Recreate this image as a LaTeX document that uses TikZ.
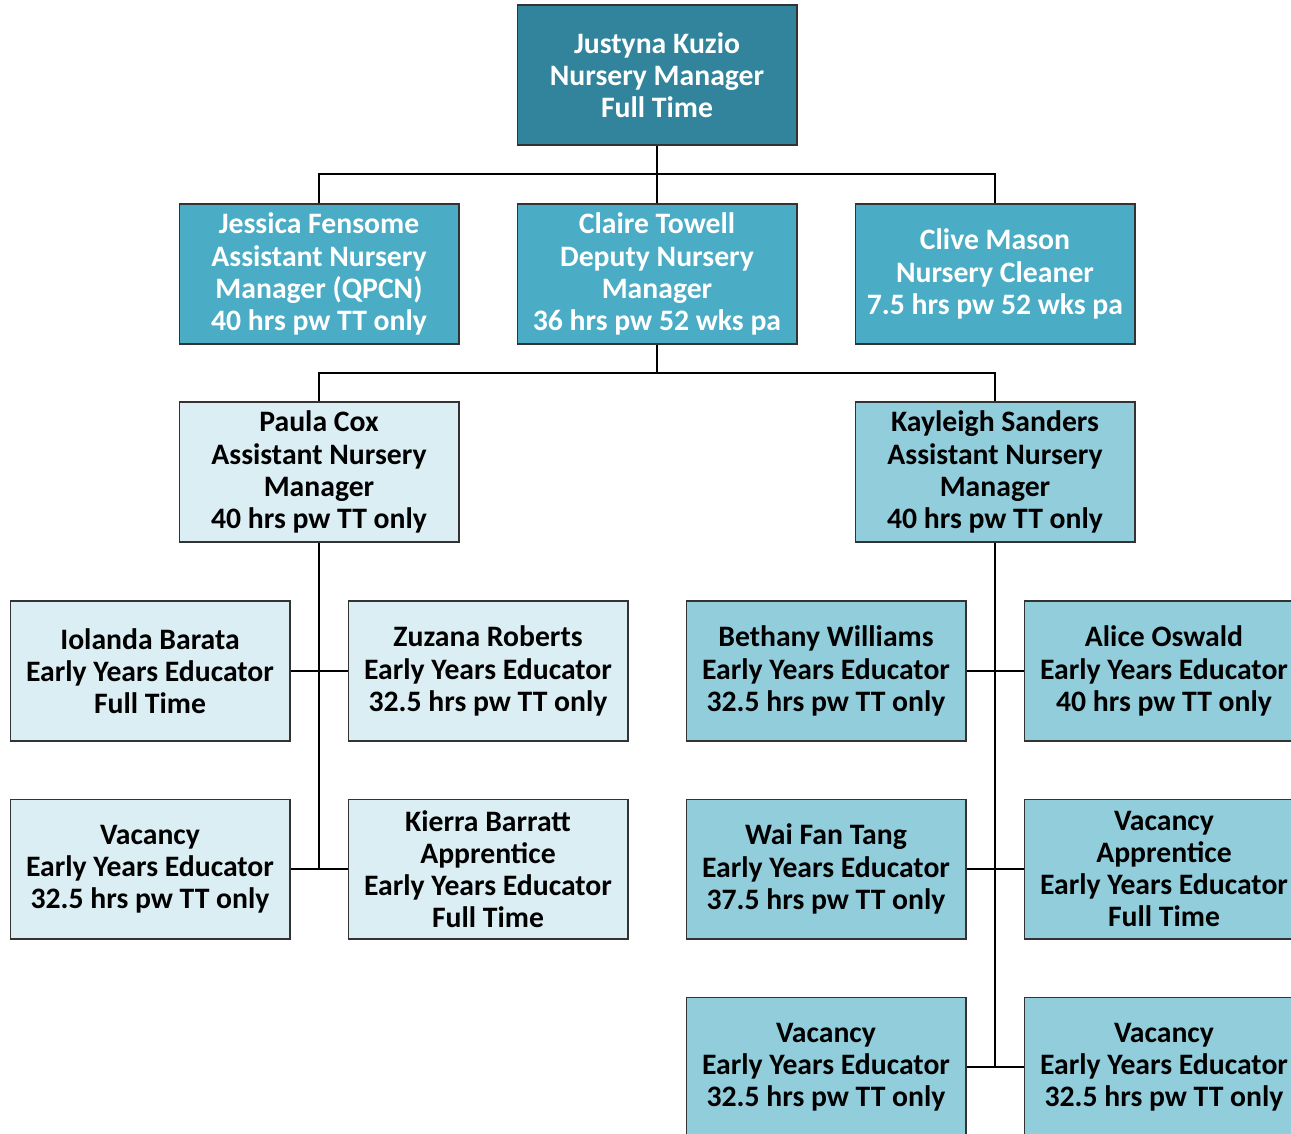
\documentclass[tikz,border=0pt]{standalone}
\usepackage{fontspec}
\setmainfont{Carlito}
\usepackage{xcolor}

\definecolor{headteal}{HTML}{31849B}
\definecolor{midblue}{HTML}{4BACC6}
\definecolor{paleblue}{HTML}{DBEEF4}
\definecolor{softblue}{HTML}{92CDDC}

\begin{document}
\begin{tikzpicture}[x=0.02cm,y=-0.02cm]
        \tikzset{staff/.style={draw=black!80,line width=0.6pt,minimum width=5.6cm,minimum height=2.8cm,
                inner sep=0pt,align=center,font=\fontsize{16.9}{18.3}\selectfont\bfseries},
            head/.style={staff,fill=headteal,text=white},
            senior/.style={staff,fill=midblue,text=white},
            leftteam/.style={staff,fill=paleblue,text=black},
            rightteam/.style={staff,fill=softblue,text=black},
            link/.style={draw=black,line width=0.7pt}}
        \clip (0,0) rectangle (1291,1133);
        % top level
        \node[head] (manager) at (657,75) {Justyna Kuzio\\Nursery Manager\\Full Time};
        % second level
        \node[senior] (jessica) at (319,274) {Jessica Fensome\\Assistant Nursery\\Manager (QPCN)\\40 hrs pw TT only};
        \node[senior] (claire) at (657,274) {Claire Towell\\Deputy Nursery\\Manager\\36 hrs pw 52 wks pa};
        \node[senior] (clive) at (995,274) {Clive Mason\\Nursery Cleaner\\7.5 hrs pw 52 wks pa};
        % assistant managers
        \node[leftteam] (paula) at (319,472) {Paula Cox\\Assistant Nursery\\Manager\\40 hrs pw TT only};
        \node[rightteam] (kayleigh) at (995,472) {Kayleigh Sanders\\Assistant Nursery\\Manager\\40 hrs pw TT only};
        % Paula's team
        \node[leftteam] (iolanda) at (150,671) {Iolanda Barata\\Early Years Educator\\Full Time};
        \node[leftteam] (zuzana) at (488,671) {Zuzana Roberts\\Early Years Educator\\32.5 hrs pw TT only};
        \node[leftteam] (vacleft) at (150,869) {Vacancy\\Early Years Educator\\32.5 hrs pw TT only};
        \node[leftteam] (kierra) at (488,869) {Kierra Barratt\\Apprentice\\Early Years Educator\\Full Time};
        % Kayleigh's team
        \node[rightteam] (bethany) at (826,671) {Bethany Williams\\Early Years Educator\\32.5 hrs pw TT only};
        \node[rightteam] (alice) at (1164,671) {Alice Oswald\\Early Years Educator\\40 hrs pw TT only};
        \node[rightteam] (waifan) at (826,869) {Wai Fan Tang\\Early Years Educator\\37.5 hrs pw TT only};
        \node[rightteam] (vacappr) at (1164,869) {Vacancy\\Apprentice\\Early Years Educator\\Full Time};
        \node[rightteam] (vaclow) at (826,1067) {Vacancy\\Early Years Educator\\32.5 hrs pw TT only};
        \node[rightteam] (vaclowr) at (1164,1067) {Vacancy\\Early Years Educator\\32.5 hrs pw TT only};
        % connectors
        \coordinate (topbus) at (657,174);
        \coordinate (midbus) at (657,373);
        \coordinate (paulaend) at (319,869);
        \coordinate (kayend) at (995,1067);
        \draw[link] (manager) -- (topbus) -| (jessica);
        \draw[link] (topbus) -- (claire);
        \draw[link] (topbus) -| (clive);
        \draw[link] (claire) -- (midbus) -| (paula);
        \draw[link] (midbus) -| (kayleigh);
        \draw[link] (paula) -- (paulaend);
        \draw[link] (iolanda) -- (zuzana);
        \draw[link] (vacleft) -- (kierra);
        \draw[link] (kayleigh) -- (kayend);
        \draw[link] (bethany) -- (alice);
        \draw[link] (waifan) -- (vacappr);
        \draw[link] (vaclow) -- (vaclowr);
\end{tikzpicture}
\end{document}
